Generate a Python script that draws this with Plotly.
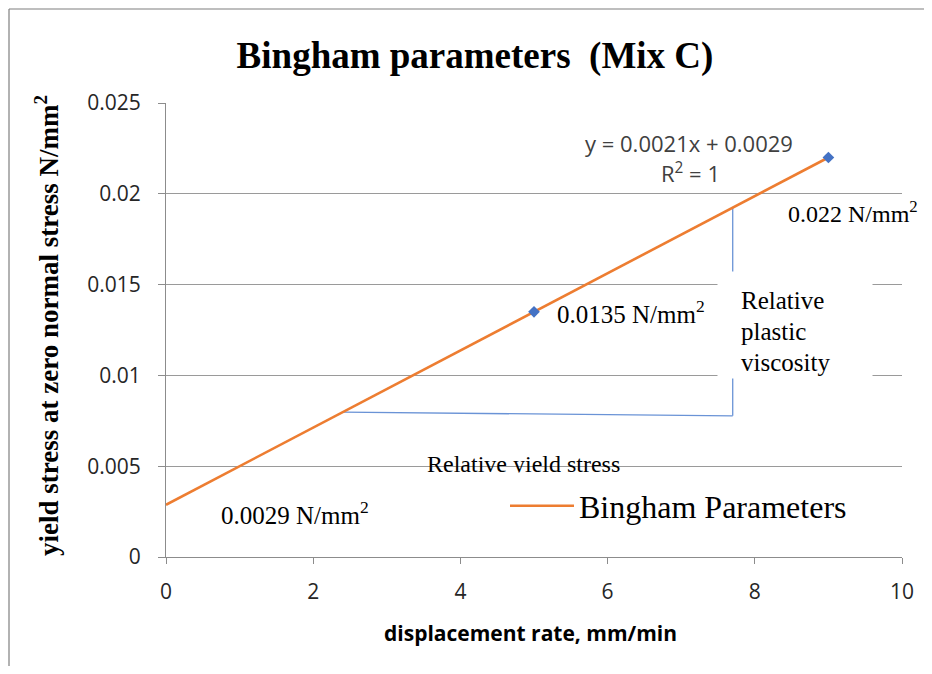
import numpy as np
import plotly.graph_objects as go

# ---- data ----
rate = [5, 9]                       # displacement rate, mm/min
yield_stress = [0.0135, 0.022]      # N/mm^2
x_ticks = [0, 2, 4, 6, 8, 10]
y_ticks = [0, 0.005, 0.01, 0.015, 0.02, 0.025]
y_ticktext = ["0", "0.005", "0.01", "0.015", "0.02", "0.025"]
point_labels = ["0.0135 N/mm<sup>2</sup>", "0.022 N/mm<sup>2</sup>"]
intercept_label = "0.0029 N/mm<sup>2</sup>"
helper_x = [2.4, 7.7]               # extent of the yield-stress / viscosity guide lines

slope, intercept = np.polyfit(rate, yield_stress, 1)
trend_x = np.array([0, max(rate)])
trend_y = intercept + slope * trend_x

# page has an 8px body margin: figure drawn at (8, 8)
OFF = 8
SW, SH = 932, 674                    # screen size
PL, PR, PT, PB = 166, 902, 103, 557  # plot area in screen pixels
W, H = SW - 2 * OFF, SH - 2 * OFF
L, T = PL - OFF, PT - OFF
R = W - (PR - OFF)
B = H - (PB - OFF)
pw, ph = PR - PL, PB - PT

def px_x(p):
    return (p - PL) / pw

def px_y(p):
    return (PB - p) / ph

ORANGE = "#ED7D31"
BLUE = "#4472C4"
GUIDE = "#6A93D6"
SERIF = "Liberation Serif, Times New Roman, serif"
SANS = "Open Sans, Liberation Sans, sans-serif"

fig = go.Figure()

fig.add_trace(go.Scatter(
    x=trend_x, y=trend_y, mode="lines", name="Bingham Parameters",
    line=dict(color=ORANGE, width=2.6), hoverinfo="skip"))

fig.add_trace(go.Scatter(
    x=rate, y=yield_stress, mode="markers", showlegend=False,
    marker=dict(symbol="diamond", size=9, color=BLUE)))

# guide lines (relative yield stress / plastic viscosity), derived from trend
h_y = intercept + slope * helper_x[0]
top_y = intercept + slope * helper_x[1]
fig.add_shape(type="line", x0=helper_x[0], x1=helper_x[1], y0=h_y, y1=h_y - 0.0002,
              line=dict(color=GUIDE, width=1.3), layer="below")
fig.add_shape(type="line", x0=helper_x[1], x1=helper_x[1], y0=h_y - 0.0002, y1=top_y,
              line=dict(color=GUIDE, width=1.3), layer="below")

# frame lines of the picture
fig.add_shape(type="line", xref="paper", yref="paper",
              x0=px_x(9), x1=px_x(SW), y0=px_y(9), y1=px_y(9),
              line=dict(color="#7f7f7f", width=1.2))
fig.add_shape(type="line", xref="paper", yref="paper",
              x0=px_x(9), x1=px_x(9), y0=px_y(9), y1=px_y(SH),
              line=dict(color="#7f7f7f", width=1.2))

ann = []
# white box behind "Relative plastic viscosity"
ann.append(dict(x=px_x(795), y=px_y(325), xref="paper", yref="paper", text=" ",
                showarrow=False, bgcolor="white", width=152, height=104,
                xanchor="center", yanchor="middle"))
for i, w in enumerate(["Relative", "plastic", "viscosity"]):
    ann.append(dict(x=px_x(739), y=px_y(300 + 31 * i), xref="paper", yref="paper",
                    text=w, showarrow=False, xanchor="left", yanchor="middle",
                    font=dict(family=SERIF, size=25, color="black")))

lab_font = dict(family=SERIF, size=25, color="black")
ann.append(dict(x=rate[0] + 0.28, y=yield_stress[0], text=point_labels[0], showarrow=False,
                xanchor="left", yanchor="middle", font=lab_font))
ann.append(dict(x=rate[1] - 0.58, y=0.0190, text=point_labels[1], showarrow=False,
                xanchor="left", yanchor="middle", font=dict(family=SERIF, size=24, color="black")))
ann.append(dict(x=0.72, y=0.00242, text=intercept_label, showarrow=False,
                xanchor="left", yanchor="middle", font=lab_font))
ann.append(dict(x=4.86, y=0.00512, text="Relative yield stress", showarrow=False,
                xanchor="center", yanchor="middle", font=dict(family=SERIF, size=24, color="black")))
# the lower edge of that text is hidden in the reference
ann.append(dict(x=px_x(525), y=px_y(479), xref="paper", yref="paper", text=" ",
                showarrow=False, bgcolor="white", width=236, height=11,
                xanchor="center", yanchor="middle"))
ann.append(dict(x=7.1, y=0.0228, text=f"y = {slope:.4f}x + {intercept:.4f}", showarrow=False,
                xanchor="center", yanchor="middle", font=dict(family=SANS, size=22, color="#404040")))
ann.append(dict(x=7.12, y=0.0212, text="R<sup>2</sup> = 1", showarrow=False,
                xanchor="center", yanchor="middle", font=dict(family=SANS, size=22, color="#404040")))

# axis titles
ann.append(dict(xref="paper", yref="paper", x=px_x(47), y=px_y(326),
                text="<b>yield stress at zero normal stress N/mm<sup>2</sup></b>",
                textangle=-90, showarrow=False, xanchor="center", yanchor="middle",
                font=dict(family=SERIF, size=27, color="black")))
ann.append(dict(xref="paper", yref="paper", x=px_x(530), y=px_y(633),
                text="<b>displacement rate, mm/min</b>", showarrow=False,
                xanchor="center", yanchor="middle",
                font=dict(family=SANS, size=21, color="black")))

fig.update_layout(
    width=W, height=H,
    margin=dict(l=L, r=R, t=T, b=B, autoexpand=False),
    paper_bgcolor="white", plot_bgcolor="white",
    title=dict(text="<b>Bingham parameters  (Mix C)</b>", x=(475 - OFF) / W,
               xanchor="center", y=1 - (55 - OFF) / H, yanchor="middle",
               font=dict(family=SERIF, size=37, color="black")),
    xaxis=dict(range=[0, 10], tickvals=x_ticks, ticktext=[str(v) for v in x_ticks],
               showgrid=False, zeroline=False, showline=True, linecolor="#8c8c8c",
               linewidth=1.2, ticks="outside", ticklen=6, tickcolor="#8c8c8c",
               ticklabelstandoff=10,
               tickfont=dict(family=SANS, size=21, color="#262626"), fixedrange=True),
    yaxis=dict(range=[0, 0.025], tickvals=y_ticks, ticktext=y_ticktext,
               showgrid=True, gridcolor="#9a9a9a", gridwidth=1.2, zeroline=False,
               showline=True, linecolor="#8c8c8c", linewidth=1.2,
               ticks="outside", ticklen=7, tickcolor="#8c8c8c",
               ticklabelstandoff=13,
               tickfont=dict(family=SANS, size=21, color="#262626"), fixedrange=True),
    legend=dict(x=px_x(505), y=px_y(506), xanchor="left", yanchor="middle",
                bgcolor="rgba(0,0,0,0)", font=dict(family=SERIF, size=32, color="black"),
                itemwidth=64),
    annotations=ann,
    showlegend=True,
)

fig.write_html("out.html")
